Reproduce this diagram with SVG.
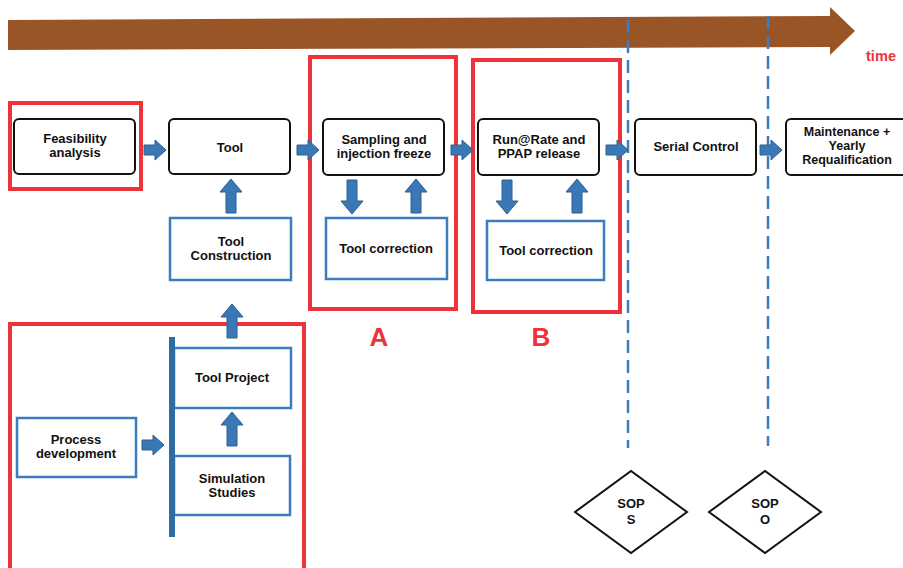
<svg xmlns="http://www.w3.org/2000/svg" xmlns:xlink="http://www.w3.org/1999/xlink" width="903" height="568" viewBox="0 0 903 568">
<style>
text{font-family:"Liberation Sans",Arial,sans-serif;font-weight:bold;font-size:13px;fill:#111;text-anchor:middle}
.sm{font-size:12.5px}
.blk{fill:#fff;stroke:#111;stroke-width:2}
.blu{fill:#fff;stroke:#3b7dbf;stroke-width:2.5}
.red{fill:none;stroke:#ee3338;stroke-width:4}
.arr{fill:#3a78b5;stroke:#2c5f8f;stroke-width:1}
.dash{stroke:#3b7dbf;stroke-width:2.5;stroke-dasharray:13 7;fill:none}
.lbl{fill:#ee3338;font-size:26px}
</style>
<defs>
<path id="ha" d="M0,-5 H11 V-10 L22,0 L11,10 V5 H0 Z"/>
<path id="ua" d="M-5,0 V-21 H-11 L0,-34 L11,-21 H5 V0 Z"/>
<path id="da" d="M-5,0 V21 H-11 L0,34 L11,21 H5 V0 Z"/>
</defs>
<rect width="903" height="568" fill="#fff"/>
<g id="timeline">
<path d="M8,20 L830,16 V7 L855,31 L830,55 V47 L8,50 Z" fill="#9a5527"/>
<text x="881" y="61" textLength="30" lengthAdjust="spacingAndGlyphs" style="fill:#ee3338;font-size:15px">time</text>
</g>
<g id="sop-lines">
<line class="dash" x1="628" y1="20" x2="628" y2="448"/>
<line class="dash" x1="768" y1="16" x2="768" y2="446"/>
</g>
<g id="groups">
<rect class="red" x="10" y="103" width="131" height="86"/>
<rect class="red" x="310" y="57" width="146" height="252"/>
<rect class="red" x="473" y="60" width="147" height="252"/>
<rect class="red" x="10" y="324" width="294" height="260"/>
<text class="lbl" x="379" y="346">A</text>
<text class="lbl" x="541" y="346">B</text>
</g>
<g id="feasibility"><rect class="blk" x="14" y="119" width="121" height="55" rx="5"/><text x="75" y="143">Feasibility</text><text x="75" y="157">analysis</text></g>
<g id="tool"><rect class="blk" x="169" y="119" width="121" height="55" rx="5"/><text x="230" y="152">Tool</text></g>
<g id="sampling"><rect class="blk" x="323" y="119" width="121" height="56" rx="5"/><text x="384" y="144">Sampling and</text><text x="384" y="158">injection freeze</text></g>
<g id="runrate"><rect class="blk" x="478" y="119" width="121" height="56" rx="5"/><text x="539" y="144">Run@Rate and</text><text x="539" y="158">PPAP release</text></g>
<g id="serial"><rect class="blk" x="635" y="119" width="121" height="56" rx="5"/><text x="696" y="151">Serial Control</text></g>
<g id="maintenance"><rect class="blk" x="786" y="119" width="121" height="56" rx="5"/><text class="sm" x="847" y="136">Maintenance +</text><text class="sm" x="847" y="150">Yearly</text><text class="sm" x="847" y="164">Requalification</text></g>
<g id="tool-construction"><rect class="blu" x="170" y="218" width="121" height="62"/><text x="231" y="246">Tool</text><text x="231" y="260">Construction</text></g>
<g id="tool-correction-a"><rect class="blu" x="326" y="218" width="121" height="61"/><text x="386" y="253">Tool correction</text></g>
<g id="tool-correction-b"><rect class="blu" x="487" y="221" width="117" height="59"/><text x="546" y="255">Tool correction</text></g>
<g id="process-development"><rect class="blu" x="17" y="418" width="119" height="59"/><text x="76" y="444">Process</text><text x="76" y="458">development</text></g>
<g id="tool-project"><rect class="blu" x="174" y="348" width="117" height="60"/><text x="232" y="382">Tool Project</text></g>
<g id="simulation-studies"><rect class="blu" x="174" y="456" width="116" height="59"/><text x="232" y="483">Simulation</text><text x="232" y="497">Studies</text></g>
<g id="sop-s"><path d="M575,512 L631,471 L687,512 L631,553 Z" fill="#fff" stroke="#111" stroke-width="2"/><text x="631" y="508">SOP</text><text x="631" y="524">S</text></g>
<g id="sop-o"><path d="M709,512 L765,471 L821,512 L765,553 Z" fill="#fff" stroke="#111" stroke-width="2"/><text x="765" y="508">SOP</text><text x="765" y="524">O</text></g>
<g id="connectors">
<rect x="169" y="337" width="6" height="200" fill="#2e6da4"/>
<use href="#ha" class="arr" x="144" y="150"/>
<use href="#ha" class="arr" x="297" y="150"/>
<use href="#ha" class="arr" x="451" y="150"/>
<use href="#ha" class="arr" x="606" y="150"/>
<use href="#ha" class="arr" x="760" y="150"/>
<use href="#ha" class="arr" x="142" y="445"/>
<use href="#ua" class="arr" x="231" y="213"/>
<use href="#ua" class="arr" x="232" y="338"/>
<use href="#ua" class="arr" x="232" y="446"/>
<use href="#da" class="arr" x="352" y="180"/>
<use href="#ua" class="arr" x="416" y="213"/>
<use href="#da" class="arr" x="507" y="180"/>
<use href="#ua" class="arr" x="577" y="213"/>
</g>
</svg>
